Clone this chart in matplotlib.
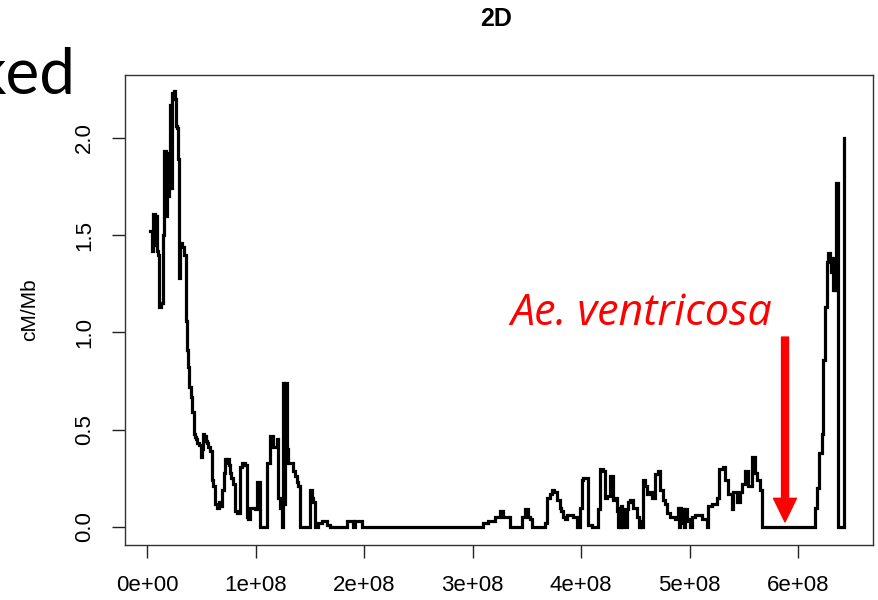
import matplotlib
matplotlib.use("Agg")
import matplotlib.pyplot as plt
import numpy as np

plt.rcParams['font.family'] = ['Liberation Sans', 'DejaVu Sans']

# Window start positions (Mb) and recombination rate (cM/Mb)
pos_a = [2.8, 4.6, 5.5, 7.4, 8.3, 9.2, 10.1, 11.1, 12.9, 14.7, 15.7, 17.5, 18.4, 19.4,
         20.3, 21.2, 22.1, 23.0, 24.9, 25.8, 26.7, 27.6, 28.6, 29.5, 30.4, 32.3, 34.1, 35.9]
val_a = [1.52, 1.42, 1.61, 1.45, 1.60, 1.42, 1.40, 1.13, 1.15, 1.50, 1.93, 1.60, 1.92, 1.70,
         1.75, 2.17, 1.74, 2.23, 2.24, 2.20, 2.06, 2.05, 1.89, 1.28, 1.46, 1.44, 1.40, 1.06]

pos_b = [36.9, 37.8, 38.7, 40.6, 41.5, 43.3, 44.2, 45.2, 46.1, 47.9, 49.8, 50.7, 51.6, 52.5,
         53.5, 54.4, 55.3, 56.2, 58.1, 59.9, 60.8, 62.7, 64.5, 66.4, 68.2, 69.1, 71.0, 71.9,
         72.8, 73.7, 75.6, 76.5, 77.4, 79.3, 81.1, 82.9, 85.7, 87.6, 90.3, 92.2, 93.1, 94.9,
         99.5, 101.4, 104.1, 110.6, 113.4, 116.1, 119.8, 120.7, 122.6, 124.4, 125.3, 126.2,
         127.2, 129.0, 129.9, 131.8, 134.6, 136.4, 138.2, 139.2, 141.0, 150.2, 152.1, 153.0,
         154.8, 157.6, 161.3, 165.9, 168.7, 184.3, 189.9, 191.7, 198.2]
val_b = [0.91, 0.82, 0.72, 0.67, 0.59, 0.48, 0.46, 0.45, 0.43, 0.42, 0.36, 0.40, 0.48, 0.44,
         0.47, 0.44, 0.43, 0.41, 0.39, 0.24, 0.21, 0.12, 0.10, 0.13, 0.11, 0.19, 0.28, 0.35,
         0.33, 0.35, 0.32, 0.28, 0.25, 0.22, 0.08, 0.07, 0.31, 0.33, 0.32, 0.05, 0.04, 0.10,
         0.09, 0.23, 0.0, 0.33, 0.47, 0.41, 0.45, 0.15, 0.10, 0.0, 0.74, 0.12,
         0.74, 0.40, 0.33, 0.33, 0.29, 0.26, 0.23, 0.21, 0.0, 0.19, 0.15, 0.13,
         0.0, 0.02, 0.03, 0.01, 0.0, 0.03, 0.0, 0.03, 0.0]

pos_c = [309.7, 314.3, 320.7, 325.3, 328.1, 334.6, 345.6, 348.4, 351.2, 353.0, 354.8, 366.8,
         368.7, 371.0, 373.3, 375.5, 377.9, 380.6, 382.0, 383.4, 385.0, 387.1, 392.6, 396.3,
         399.1, 400.9, 401.8, 406.5, 410.1, 415.7, 417.5, 420.0, 422.1, 424.0, 426.7, 429.5,
         431.0, 433.2, 434.1, 435.0, 435.9, 436.9, 437.8, 438.7, 439.6, 441.5, 442.4, 443.3,
         445.2, 447.9, 451.6, 453.0, 454.4, 455.3, 457.1, 459.0, 460.8, 463.6, 465.4, 468.2,
         470.9, 472.8, 475.6, 477.4, 479.3, 482.0, 486.6, 489.4, 490.3, 491.2, 492.2, 493.1,
         494.0, 494.9, 495.8, 496.8, 497.7, 498.6, 500.5, 502.3, 505.1, 511.5, 516.1, 517.1,
         520.7, 525.3, 527.2, 530.9, 532.7, 535.5, 539.2, 540.1, 543.8, 546.5, 548.4, 551.2,
         553.9, 557.6, 560.4, 562.2, 565.0, 566.8]
val_c = [0.02, 0.03, 0.05, 0.08, 0.05, 0.0, 0.05, 0.09, 0.05, 0.04, 0.0, 0.02,
         0.15, 0.17, 0.19, 0.18, 0.14, 0.10, 0.08, 0.05, 0.04, 0.06, 0.05, 0.0,
         0.10, 0.24, 0.25, 0.01, 0.0, 0.09, 0.30, 0.29, 0.15, 0.16, 0.26, 0.14,
         0.15, 0.08, 0.0, 0.10, 0.0, 0.11, 0.0, 0.09, 0.08, 0.0, 0.09, 0.13,
         0.14, 0.10, 0.05, 0.0, 0.03, 0.0, 0.24, 0.21, 0.17, 0.18, 0.15, 0.27,
         0.29, 0.19, 0.14, 0.12, 0.07, 0.05, 0.04, 0.10, 0.0, 0.10, 0.02, 0.09,
         0.09, 0.0, 0.09, 0.09, 0.03, 0.04, 0.0, 0.05, 0.06, 0.04, 0.0, 0.11,
         0.12, 0.15, 0.30, 0.31, 0.24, 0.17, 0.09, 0.18, 0.13, 0.18, 0.22, 0.29,
         0.21, 0.36, 0.28, 0.24, 0.19, 0.0]

pos_d = [615.7, 617.5, 619.4, 622.1, 623.0, 624.9, 626.7, 627.6, 629.5, 630.4, 632.3,
         633.2, 634.1, 635.0, 636.9, 642.4]
val_d = [0.10, 0.20, 0.38, 0.48, 0.86, 1.13, 1.36, 1.41, 1.38, 1.31, 1.22,
         1.38, 1.22, 1.77, 0.0, 2.0]

x_ticks = [0, 1e8, 2e8, 3e8, 4e8, 5e8, 6e8]
x_labels = ["0e+00", "1e+08", "2e+08", "3e+08", "4e+08", "5e+08", "6e+08"]
y_ticks = [0.0, 0.5, 1.0, 1.5, 2.0]
y_labels = ["0.0", "0.5", "1.0", "1.5", "2.0"]

title = "2D"
ylabel = "cM/Mb"
annot_text = "Ae. ventricosa"
annot_x = 5.88e8
annot_top = 0.976
annot_tip = 0.026
slide_text = "ked"

pos = np.array(pos_a + pos_b + pos_c + pos_d) * 1e6
val = np.array(val_a + val_b + val_c + val_d)

W, H = 879, 600
fig = plt.figure(figsize=(W / 100, H / 100), dpi=100)
ax = fig.add_axes([125 / W, 55 / H, 748 / W, 470 / H])

ax.plot(pos, val, drawstyle='steps-post', color='black', lw=2.3, solid_joinstyle='miter')

ax.set_xlim(-0.2028e8, 6.691e8)
ax.set_ylim(-0.0925, 2.3227)
ax.set_xticks(x_ticks)
ax.set_xticklabels(x_labels, fontsize=16)
ax.set_yticks(y_ticks)
ax.set_yticklabels(y_labels, fontsize=16, rotation=90, va='center')
ax.tick_params(direction='out', length=9.5, width=1.0, color='#222222', pad=12)
for s in ax.spines.values():
    s.set_linewidth(1.0)
    s.set_color('#333333')

fig.text(496 / W, 1 - 19 / H, title, fontsize=18, fontweight='bold', ha='center', va='center')
fig.text(30 / W, 1 - 310 / H, ylabel, fontsize=15, rotation=90, ha='center', va='center')

ax.annotate('', xy=(annot_x, annot_tip), xytext=(annot_x, annot_top),
            arrowprops=dict(width=5, headwidth=16.5, headlength=17, facecolor='#ff0000',
                            edgecolor='#ff0000', shrink=0))
fig.text(772 / W, 1 - 325 / H, annot_text, fontsize=31, color='#ff0000', style='italic',
         family=['Open Sans', 'DejaVu Sans'], ha='right', va='baseline')
fig.text(76 / W, 1 - 94 / H, slide_text, fontsize=46, color='black',
         family=['Lato', 'DejaVu Sans'], ha='right', va='baseline')

fig.savefig('out.png', dpi=100)
